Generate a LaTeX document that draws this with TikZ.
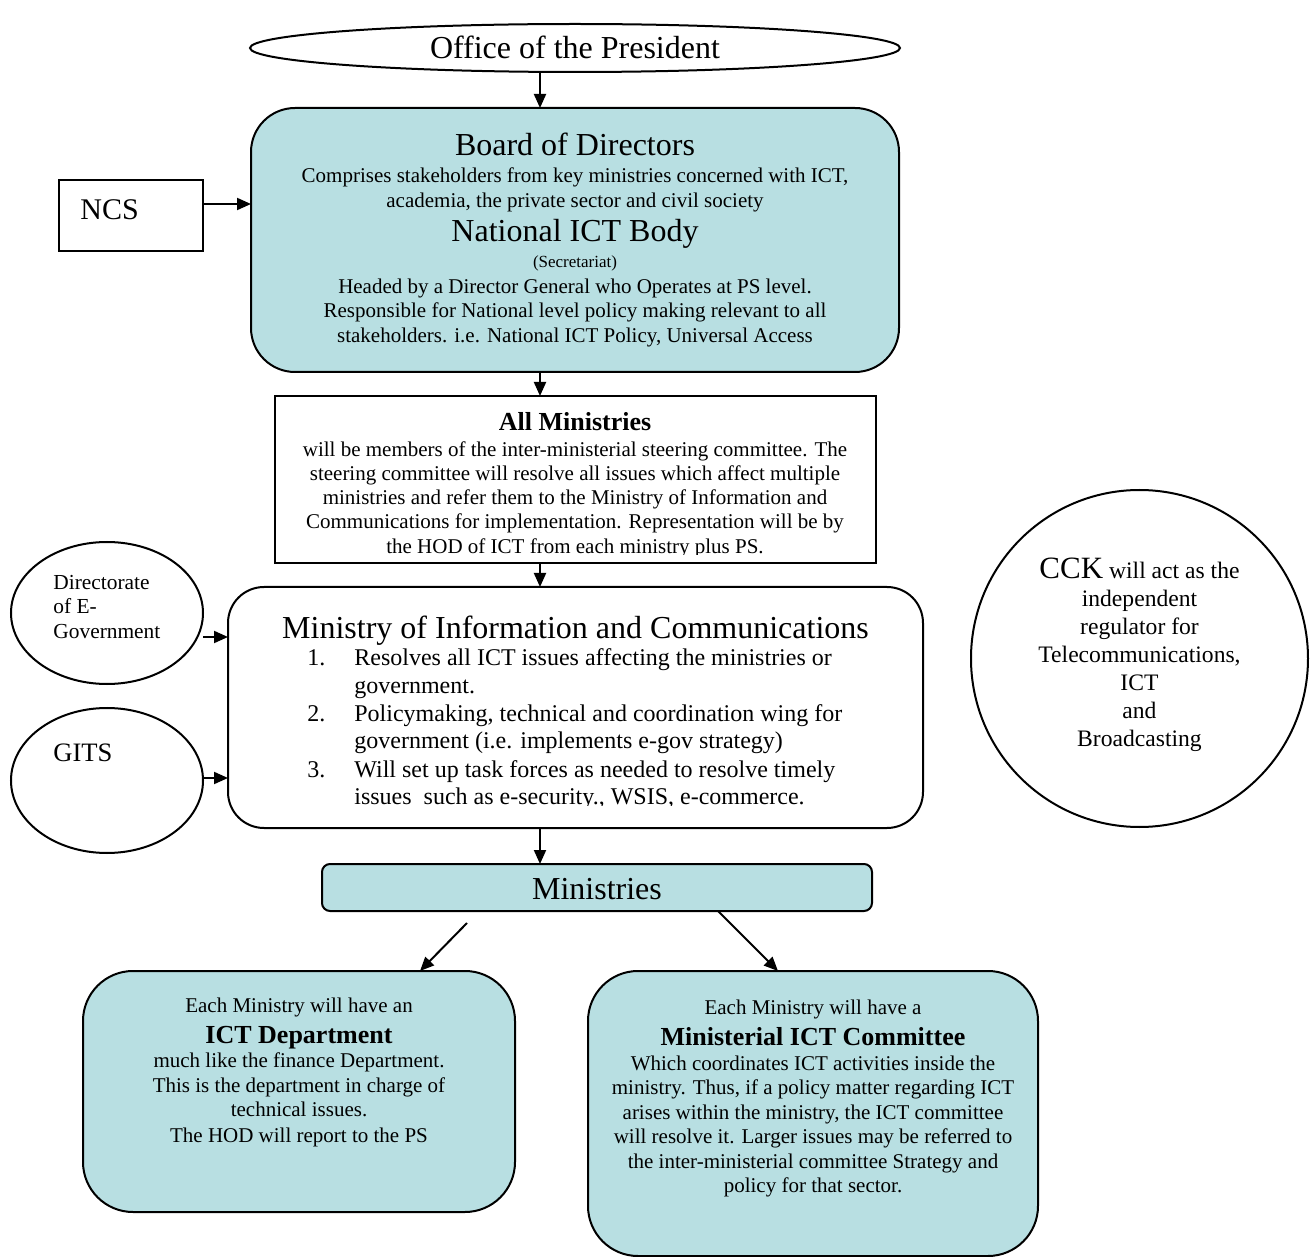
\documentclass[tikz,border=0pt]{standalone}
\usepackage{fontspec}
\setmainfont{Liberation Serif}
\usetikzlibrary{shapes.geometric,arrows.meta,calc}
\definecolor{tealfill}{HTML}{B8DFE2}
\begin{document}
\begin{tikzpicture}[x=0.5pt,y=-0.5pt,
  shp/.style={draw, line width=1pt, inner sep=0pt, outer sep=0pt},
  arr/.style={-{Triangle[length=7pt,width=6pt]}, line width=1pt},
  tb/.style={inner sep=0pt, anchor=base},
  tl/.style={inner sep=0pt, anchor=base west},
  fbig/.style={font=\fontsize{16}{19}\selectfont},
  fsm/.style={font=\fontsize{10.5}{12}\selectfont},
  fmid/.style={font=\fontsize{12}{14}\selectfont},
  fbold/.style={font=\bfseries\fontsize{13}{15}\selectfont}]
\useasboundingbox (0,0) rectangle (1314,1257);

% ---------- shapes ----------
\node[shp, ellipse, minimum width=325pt, minimum height=24pt] (office) at (575,48) {};
\node[shp, fill=tealfill, rounded corners=22pt, minimum width=324pt, minimum height=132pt] (board) at (575,240) {};
\node[shp, minimum width=72pt, minimum height=35.5pt] (ncs) at (131,215.5) {};
\node[shp, minimum width=300.5pt, minimum height=83.5pt] (allmin) at (575.5,479.5) {};
\node[shp, fill=white, rounded corners=18pt, minimum width=347.5pt, minimum height=120.5pt] (moic) at (575.5,707.5) {};
\node[shp, ellipse, minimum width=96pt, minimum height=71pt] (dir) at (107,613) {};
\node[shp, ellipse, minimum width=96pt, minimum height=72.5pt] (gits) at (107,780.5) {};
\node[shp, circle, minimum size=168.5pt] (cck) at (1139.5,658.5) {};
\node[shp, fill=tealfill, rounded corners=4pt, minimum width=275pt, minimum height=23.5pt] (mins) at (597,887.5) {};
\node[shp, fill=tealfill, rounded corners=25pt, minimum width=216pt, minimum height=120.5pt] (ictdep) at (299,1091.5) {};
\node[shp, fill=tealfill, rounded corners=25pt, minimum width=225pt, minimum height=142.5pt] (mcom) at (813,1113.5) {};

% ---------- connectors ----------
\coordinate (cx) at (540,0);
\coordinate (ny) at (0,204);
\coordinate (dy) at (0,637);
\coordinate (gy) at (0,778);
\coordinate (la) at (467,923);
\coordinate (lx) at (420,0);
\coordinate (rs) at (718,0);
\coordinate (rx) at (778,0);
\draw[arr] (office.south -| cx) -- (board.north -| cx);
\draw[arr] (board.south -| cx) -- (allmin.north -| cx);
\draw[arr] (allmin.south -| cx) -- (moic.north -| cx);
\draw[arr] (moic.south -| cx) -- (mins.north -| cx);
\draw[arr] (ncs.east |- ny) -- (board.west |- ny);
\draw[arr] (dir.east |- dy) -- (moic.west |- dy);
\draw[arr] (gits.east |- gy) -- (moic.west |- gy);
\draw[arr] (la) -- (ictdep.north -| lx);
\draw[arr] (mins.south -| rs) -- (mcom.north -| rx);

% ---------- texts ----------
\node[tb, fbig] (t-office) at (575,58.5) {Office of the President};

\node[tb, fbig] (t-bd) at (575,156) {Board of Directors};
\node[tb, fsm] (t-bd1) at (575,183) {Comprises stakeholders from key ministries concerned with ICT,};
\node[tb, fsm] (t-bd2) at (575,208) {academia, the private sector and civil society};
\node[tb, fbig] (t-nib) at (575,242) {National ICT Body};
\node[tb, font=\fontsize{8.5}{10}\selectfont] (t-sec) at (575,268) {(Secretariat)};
\node[tb, fsm] (t-h1) at (575,293.5) {Headed by a Director General who Operates at PS level.};
\node[tb, fsm] (t-h2) at (575,318) {Responsible for National level policy making relevant to all};
\node[tb, fsm] (t-h3) at (575,342.5) {stakeholders. i.e. National ICT Policy, Universal Access};

\node[tl, font=\fontsize{15}{18}\selectfont] (t-ncs) at (80,220) {NCS};

\begin{scope}
\clip (275,396) rectangle (876,554.5);
\node[tb, fbold] (t-am) at (575,431) {All Ministries};
\foreach \t [count=\i] in {{will be members of the inter-ministerial steering committee. The},
  {steering committee will resolve all issues which affect multiple},
  {ministries and refer them to the Ministry of Information and},
  {Communications for implementation. Representation will be by},
  {the HOD of ICT from each ministry plus PS.}}
  \node[tb, fsm] (t-am\i) at (575,{457+24*(\i-1)}) {\t};
\end{scope}

\node[tb, fbig] (t-moic) at (575.5,639) {Ministry of Information and Communications};
\node[tl, fmid] (n1) at (307,666) {1.};
\node[tl, fmid] (n2) at (307,721) {2.};
\node[tl, fmid] (n3) at (307,777) {3.};
\begin{scope}
\clip (300,640) rectangle (900,805.5);
\node[tl, fmid] (l1a) at (354,666) {Resolves all ICT issues affecting the ministries or};
\node[tl, fmid] (l1b) at (354,694) {government.};
\node[tl, fmid] (l2a) at (354,721) {Policymaking, technical and coordination wing for};
\node[tl, fmid] (l2b) at (354,748) {government (i.e. implements e-gov strategy)};
\node[tl, fmid] (l3a) at (354,777) {Will set up task forces as needed to resolve timely};
\node[tl, fmid] (l3b) at (354,804) {issues\ \ such as e-security., WSIS, e-commerce.};
\end{scope}

\node[tl, font=\fontsize{10.7}{12.5}\selectfont] (t-dir1) at (53,589) {Directorate};
\node[tl, font=\fontsize{10.7}{12.5}\selectfont] (t-dir2) at (53,614) {of E-};
\node[tl, font=\fontsize{10.7}{12.5}\selectfont] (t-dir3) at (53,639) {Government};
\node[tl, font=\fontsize{13.3}{16}\selectfont] (t-gits) at (53,762) {GITS};

\node[tb, font=\fontsize{11.8}{14}\selectfont] (t-cck1) at (1139.5,579) {{\fontsize{15.5}{18}\selectfont CCK} will act as the};
\foreach \t [count=\i] in {independent, regulator for, {Telecommunications,}, ICT, and, Broadcasting}
  \node[tb, font=\fontsize{11.8}{14}\selectfont] (t-cck\i x) at (1139.5,{579+27.9*\i}) {\t};

\node[tb, fbig] (t-mins) at (597,899.5) {Ministries};

\node[tb, fsm] (t-d1) at (299,1012) {Each Ministry will have an};
\node[tb, fbold] (t-d2) at (299,1043) {ICT Department};
\node[tb, fsm] (t-d3) at (299,1067) {much like the finance Department.};
\node[tb, fsm] (t-d4) at (299,1092) {This is the department in charge of};
\node[tb, fsm] (t-d5) at (299,1116) {technical issues.};
\node[tb, fsm] (t-d6) at (299,1142) {The HOD will report to the PS};

\node[tb, fsm] (t-c1) at (813,1014) {Each Ministry will have a};
\node[tb, fbold] (t-c2) at (813,1045) {Ministerial ICT Committee};
\foreach \t [count=\i] in {{Which coordinates ICT activities inside the},
  {ministry. Thus, if a policy matter regarding ICT},
  {arises within the ministry, the ICT committee},
  {will resolve it. Larger issues may be referred to},
  {the inter-ministerial committee Strategy and},
  {policy for that sector.}}
  \node[tb, fsm] (t-c\i x) at (813,{1070+24.5*(\i-1)}) {\t};
\end{tikzpicture}
\end{document}
